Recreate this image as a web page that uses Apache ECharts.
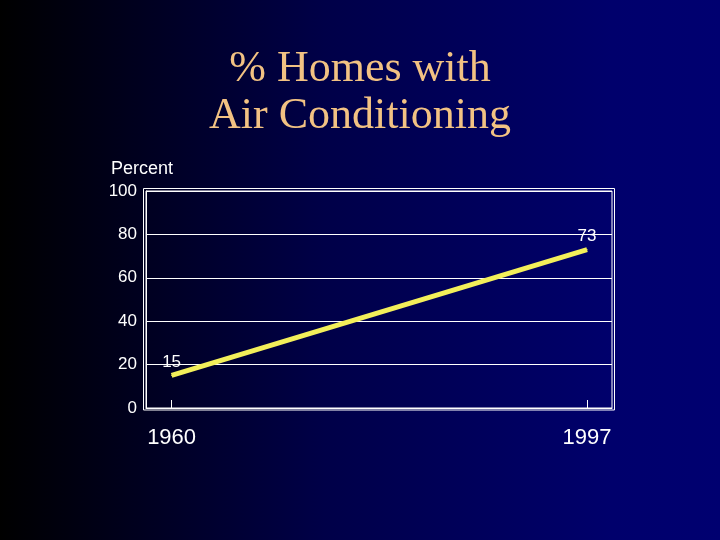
<!DOCTYPE html>
<html>
<head>
<meta charset="utf-8">
<script src="https://cdn.jsdelivr.net/npm/echarts@6/dist/echarts.min.js"></script>
<style>
html,body{margin:0;padding:0;width:720px;height:540px;overflow:hidden;}
#c{width:720px;height:540px;}
</style>
</head>
<body>
<div id="c"></div>
<script>
const years = [1960, 1997];
const percent = [15, 73];
const yTicks = [0, 20, 40, 60, 80, 100];
const titleText = '% Homes with\nAir Conditioning';
const yName = 'Percent';

const chart = echarts.init(document.getElementById('c'));
const sans = "'Liberation Sans', Arial, sans-serif";
chart.setOption({
  animation: false,
  backgroundColor: {
    type: 'linear', x: 0, y: 0, x2: 1, y2: 0,
    colorStops: [
      {offset: 0, color: '#000000'},
      {offset: 0.45, color: '#000048'},
      {offset: 0.85, color: '#00006c'},
      {offset: 1, color: '#000070'}
    ]
  },
  title: [
    {
      text: titleText, left: 'center', top: 41,
      textStyle: {color: '#f2c283', fontFamily: "'Liberation Serif', 'Times New Roman', serif",
        fontWeight: 'normal', fontSize: 44, lineHeight: 47}
    },
    {
      text: yName, left: 106, top: 155,
      textStyle: {color: '#ffffff', fontFamily: sans, fontWeight: 'normal', fontSize: 18}
    }
  ],
  grid: [
    {left: 146, right: 108, top: 191, bottom: 132, show: true, borderColor: '#ffffff', borderWidth: 1, containLabel: false},
    {left: 143.5, right: 105.5, top: 188.5, bottom: 130, show: true, borderColor: '#ffffff', borderWidth: 1, containLabel: false}
  ],
  xAxis: [
    {
      type: 'value', gridIndex: 0, min: 1957.72, max: 1999.22,
      axisLine: {show: true, lineStyle: {color: '#ffffff', width: 1}},
      axisTick: {show: true, inside: true, length: 8, customValues: years, lineStyle: {color: '#ffffff'}},
      axisLabel: {show: true, customValues: years, color: '#ffffff', fontFamily: sans, fontSize: 22, margin: 19,
        formatter: v => String(v)},
      splitLine: {show: false}
    },
    {type: 'value', gridIndex: 1, show: false, min: 0, max: 1, splitLine: {show: false}}
  ],
  yAxis: [
    {
      type: 'value', gridIndex: 0, min: 0, max: 100, interval: 20,
      axisLine: {show: true, lineStyle: {color: '#ffffff', width: 1}},
      axisTick: {show: false},
      axisLabel: {color: '#ffffff', fontFamily: sans, fontSize: 17, margin: 9, padding: [4, 0, 0, 0],
        formatter: v => yTicks.includes(v) ? String(v) : ''},
      splitLine: {show: true, lineStyle: {color: '#ffffff', width: 1}}
    },
    {type: 'value', gridIndex: 1, show: false, min: 0, max: 1, splitLine: {show: false}}
  ],
  series: [{
    type: 'line',
    xAxisIndex: 0, yAxisIndex: 0,
    data: years.map((y, i) => [y, percent[i]]),
    symbol: 'circle', symbolSize: 1,
    itemStyle: {color: '#f3ef5a'},
    lineStyle: {color: '#f3ef5a', width: 5},
    label: {show: true, position: 'top', distance: 4, color: '#ffffff', fontFamily: sans, fontSize: 17,
      formatter: p => String(p.value[1])}
  }]
});
</script>
</body>
</html>
